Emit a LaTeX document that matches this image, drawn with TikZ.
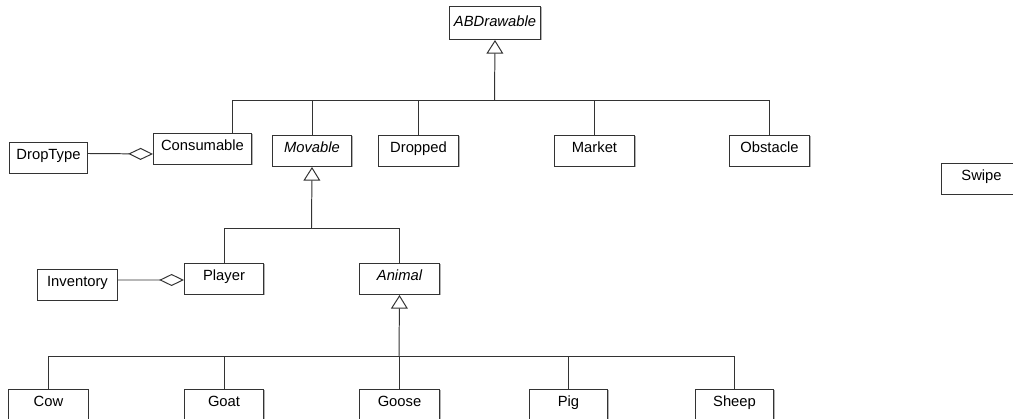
\documentclass[tikz,border=0pt]{standalone}
\usepackage{fontspec}
\setmainfont{Liberation Sans}
\usetikzlibrary{positioning,arrows.meta,shadows}

\begin{document}
\begin{tikzpicture}[x=0.025cm, y=-0.025cm,
    cls/.style={draw=black!80, fill=white, line width=0.7pt, anchor=north west, inner sep=0pt,
        minimum width=2cm, minimum height=0.775cm, text height=0.42cm, text depth=0.355cm,
        font=\fontsize{10.5}{12}\selectfont,
        drop shadow={shadow xshift=0.7pt, shadow yshift=-0.7pt, fill=black!50, opacity=0.6}},
    abstract/.style={cls, font=\fontsize{10.5}{12}\selectfont\itshape},
    link/.style={draw=black!80, line width=0.7pt},
    inherit/.style={link, -{Triangle[open, width=0.42cm, length=0.34cm]}},
    aggregate/.style={link, -{Diamond[open, width=0.3cm, length=0.62cm]}},
]
\useasboundingbox (0,0) rectangle (1013,419);

% --- ABDRAWABLE ---
\node[abstract, minimum width=2.275cm, minimum height=0.825cm, text height=0.5cm, text depth=0.325cm] (abdrawable) at (449,6) {ABDrawable};
\coordinate (abbus) at (494.5,100);

\node[cls, minimum width=2.45cm] (consumable) at (153,133) {Consumable};
\node[abstract, minimum width=1.975cm] (movable) at (272,135) {Movable};
\foreach \name/\lbl/\xx in {dropped/Dropped/378, market/Market/554, obstacle/Obstacle/729} {
    \node[cls] (\name) at (\xx,135) {\lbl};
    \draw[link] (\name.north) |- (abbus);
}
\draw[link] ([xshift=-0.5cm]consumable.north east) |- (abbus);
\draw[link] (movable.north) |- (abbus);
\draw[inherit] (abbus) -- (abdrawable.south);

\node[cls, minimum width=1.95cm] (droptype) at (9,142) {DropType};
\draw[aggregate] ([yshift=0.1125cm]droptype.east) -- ([yshift=-0.125cm]consumable.west);

% --- MOVABLE ---
\coordinate (mvbus) at (311.5,228);
\node[cls, minimum width=1.975cm] (player) at (184,263) {Player};
\node[abstract] (animal) at (359,263) {Animal};
\draw[link] (player.north) |- (mvbus);
\draw[link] (animal.north) |- (mvbus);
\draw[inherit] (mvbus) -- (movable.south);

\node[cls] (inventory) at (37,269) {Inventory};
\draw[aggregate] ([yshift=0.125cm]inventory.east) -- ([yshift=-0.025cm]player.west);

% --- ANIMAL ---
\coordinate (anbus) at (399,356);
\foreach \name/\lbl/\xx/\ww in {cow/Cow/8/2cm, goat/Goat/184/1.975cm, goose/Goose/359/2cm, pig/Pig/529/1.95cm, sheep/Sheep/695/1.95cm} {
    \node[cls, minimum width=\ww] (\name) at (\xx,389) {\lbl};
    \draw[link] (\name.north) |- (anbus);
}
\draw[inherit] (anbus) -- (animal.south);

% --- SWIPE ---
\node[cls] (swipe) at (941,163) {Swipe};

\end{tikzpicture}
\end{document}
